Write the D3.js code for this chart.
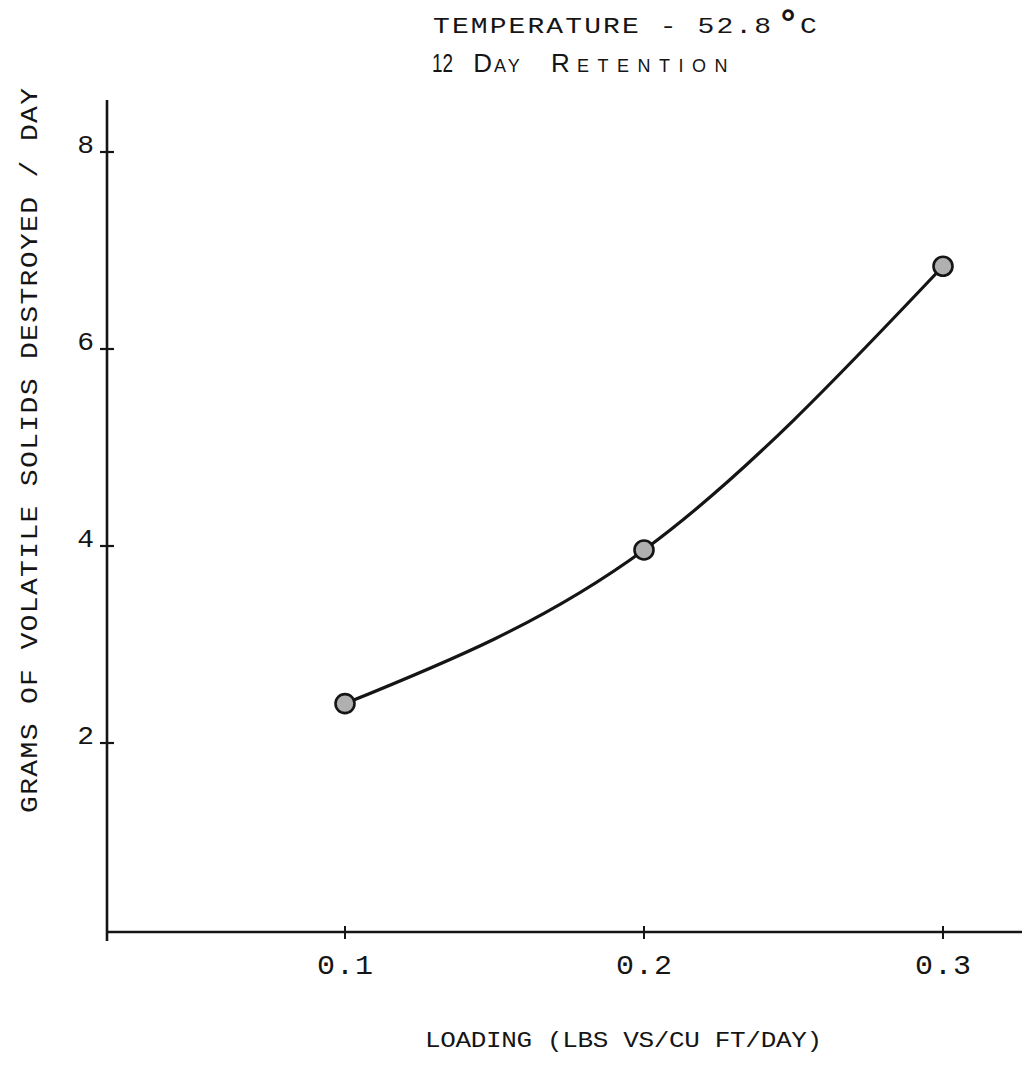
<!DOCTYPE html>
<html>
<head>
<meta charset="utf-8">
<script src="https://cdn.jsdelivr.net/npm/d3@7"></script>
<style>
  html, body { margin: 0; padding: 0; background: #fff; }
  svg { display: block; }
</style>
</head>
<body>
<div id="chart"></div>
<script>
// ---- data ----
const loading = [0.1, 0.2, 0.3];                 // LBS VS/CU FT/DAY
const gramsDestroyed = [2.40, 3.96, 6.84];       // grams VS destroyed / day
const xTickValues = [0.1, 0.2, 0.3];
const xTickLabels = ["0.1", "0.2", "0.3"];
const yTickValues = [2, 4, 6, 8];
const yTickLabels = ["2", "4", "6", "8"];
const titleLine1 = "TEMPERATURE - 52.8";
const xAxisTitle = "LOADING (LBS VS/CU FT/DAY)";
const yAxisTitle = "GRAMS OF VOLATILE SOLIDS DESTROYED / DAY";

const W = 1022, H = 1067;
const ink = "#151515";
const mono = "'Liberation Mono', 'DejaVu Sans Mono', monospace";
const sans = "'Liberation Sans', 'DejaVu Sans', sans-serif";

const svg = d3.select("#chart").append("svg")
  .attr("width", W).attr("height", H)
  .attr("viewBox", `0 0 ${W} ${H}`);
svg.append("rect").attr("width", W).attr("height", H).attr("fill", "#fff");

const x = d3.scaleLinear().domain([0.1, 0.3]).range([345, 943]);
const y = d3.scaleLinear().domain([0, 8]).range([940, 152]);

const axisX = 107;   // y-axis position
const axisY = 932;   // x-axis position

// ---- axes lines ----
svg.append("line")
  .attr("x1", axisX).attr("x2", axisX)
  .attr("y1", 100).attr("y2", 941)
  .attr("stroke", ink).attr("stroke-width", 2.6);
svg.append("line")
  .attr("x1", axisX - 1).attr("x2", W)
  .attr("y1", axisY).attr("y2", axisY)
  .attr("stroke", ink).attr("stroke-width", 2.4);

// y ticks
const yt = svg.append("g");
yt.selectAll("line").data(yTickValues).join("line")
  .attr("x1", axisX - 7).attr("x2", axisX + 7)
  .attr("y1", d => y(d)).attr("y2", d => y(d))
  .attr("stroke", ink).attr("stroke-width", 2.2);
yt.selectAll("g").data(yTickValues).join("g")
  .attr("transform", d => `translate(${axisX - 13},${y(d) + 1}) scale(1,0.9)`)
  .append("text")
  .attr("text-anchor", "end")
  .attr("font-family", mono).attr("font-size", 28)
  .attr("fill", ink)
  .text((d, i) => yTickLabels[i]);

// x ticks
const xt = svg.append("g");
xt.selectAll("line").data(xTickValues).join("line")
  .attr("x1", d => x(d)).attr("x2", d => x(d))
  .attr("y1", axisY - 6).attr("y2", axisY + 7)
  .attr("stroke", ink).attr("stroke-width", 2);
xt.selectAll("g").data(xTickValues).join("g")
  .attr("transform", d => `translate(${x(d) - 28},974) scale(1,0.9)`)
  .append("text")
  .attr("font-family", mono).attr("font-size", 30)
  .attr("textLength", 56).attr("lengthAdjust", "spacing")
  .attr("fill", ink)
  .text((d, i) => xTickLabels[i]);

// ---- curve ----
const pts = loading.map((v, i) => [v, gramsDestroyed[i]]);
const line = d3.line()
  .x(d => x(d[0])).y(d => y(d[1]))
  .curve(d3.curveNatural);
svg.append("path")
  .attr("d", line(pts))
  .attr("fill", "none")
  .attr("stroke", ink).attr("stroke-width", 3.2);

svg.append("g").selectAll("circle").data(pts).join("circle")
  .attr("cx", d => x(d[0])).attr("cy", d => y(d[1]))
  .attr("r", 9.5)
  .attr("fill", "#b0b0b0")
  .attr("stroke", ink).attr("stroke-width", 2.6);

// ---- titles ----
const g1 = svg.append("g").attr("transform", "translate(0,33)");
const t1 = g1.append("text").attr("font-family", mono).attr("fill", ink);
t1.append("tspan")
  .attr("x", 433).attr("y", 0)
  .attr("font-size", 28)
  .attr("transform", "scale(1,0.8)")
  .attr("textLength", 338).attr("lengthAdjust", "spacing")
  .text(titleLine1);
const gDeg = svg.append("g").attr("transform", "translate(777,35)");
gDeg.append("text")
  .attr("font-family", mono).attr("font-size", 37).attr("font-weight", "bold")
  .attr("fill", ink)
  .text("°");
const gC = svg.append("g").attr("transform", "translate(800,33) scale(1,0.8)");
gC.append("text")
  .attr("font-family", mono).attr("font-size", 28).attr("fill", ink)
  .text("C");

// fix scale for title line (apply on group instead of tspan)
g1.attr("transform", "translate(0,33) scale(1,0.8)");

const t2 = svg.append("text")
  .attr("font-family", sans).attr("fill", ink);
t2.append("tspan").attr("x", 432).attr("y", 72).attr("font-size", 26)
  .attr("textLength", 21).attr("lengthAdjust", "spacingAndGlyphs").text("12");
t2.append("tspan").attr("x", 466).attr("y", 72).attr("font-size", 26).text(" D");
t2.append("tspan").attr("x", 494).attr("y", 72).attr("font-size", 18)
  .attr("letter-spacing", 3).text("AY ");
t2.append("tspan").attr("x", 551).attr("y", 72).attr("font-size", 26).text("R");
t2.append("tspan").attr("x", 577).attr("y", 72).attr("font-size", 18)
  .attr("letter-spacing", 8.5).text("ETENTION");

// axis titles
svg.append("g").attr("transform", "translate(425,1047) scale(1,0.86)")
  .append("text")
  .attr("font-family", mono).attr("font-size", 26)
  .attr("textLength", 397).attr("lengthAdjust", "spacing")
  .attr("fill", ink)
  .text(xAxisTitle);

svg.append("g").attr("transform", "translate(37,451) rotate(-90) scale(1,0.86)")
  .append("text")
  .attr("x", -362).attr("y", 0)
  .attr("font-family", mono).attr("font-size", 28)
  .attr("textLength", 725).attr("lengthAdjust", "spacing")
  .attr("fill", ink)
  .text(yAxisTitle);
</script>
</body>
</html>
